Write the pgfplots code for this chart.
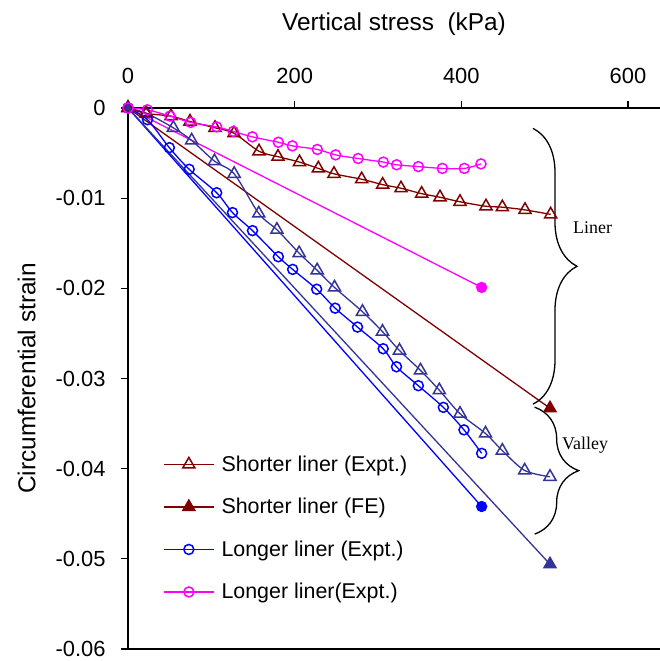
\documentclass[border=0pt]{standalone}
\usepackage{pgfplots}
\pgfplotsset{compat=1.18}
\usepackage{fontspec}
\setmainfont{Liberation Sans}
\newfontfamily\tms{Liberation Serif}
\usetikzlibrary{decorations.pathreplacing}
\definecolor{dred}{HTML}{800000}
\definecolor{slate}{HTML}{333399}
\definecolor{mag}{HTML}{FF00FF}
\begin{document}
\begin{tikzpicture}
\begin{axis}[
  scale only axis, width=532bp, height=541bp,
  xmin=0, xmax=638.4, ymin=-0.06, ymax=0,
  clip=false, scaled ticks=false,
  axis x line*=box, axis y line*=left,
  x axis line style={-, line width=1.5bp}, y axis line style={-, line width=1.5bp},
  xtick pos=right, xticklabel pos=right,
  ytick pos=left, yticklabel pos=left,
  tick align=outside, major tick length=7bp,
  tick style={black, line width=1.3bp},
  xtick={0,200,400,600}, xticklabels={0,200,400,600},
  ytick={0,-0.01,-0.02,-0.03,-0.04,-0.05,-0.06},
  yticklabels={0,-0.01,-0.02,-0.03,-0.04,-0.05,-0.06},
  ticklabel style={font=\fontsize{22}{26}\selectfont},
  xticklabel shift=14bp, yticklabel shift=12bp,
  xlabel={Vertical stress\ \ (kPa)},
  ylabel={Circumferential strain},
  xlabel shift=26bp, ylabel shift=13bp,
  label style={font=\fontsize{24.5}{28}\selectfont},
  legend style={draw=none, fill=none, at={(rel axis cs:0.0658,0.361)}, anchor=north west,
     font=\fontsize{21.5}{25}\selectfont, inner sep=0pt, nodes={inner sep=2bp}, row sep=21.5bp,
     cells={anchor=west}, /tikz/every odd column/.append style={column sep=5bp}},
  legend image code/.code={\draw[mark repeat=2,mark phase=2] plot coordinates {(0bp,0bp) (25bp,0bp) (50bp,0bp)};},
]
\coordinate (tl) at (rel axis cs:0,1);
% FE lines
\addplot[dred, line width=1.3bp, mark=triangle*, mark size=7bp, mark options={fill=dred, solid}, forget plot]
  coordinates {(0,0) (506.4,-0.0333)};
\addplot[blue, line width=1.3bp, mark=*, mark size=5bp, mark options={fill=blue}, forget plot]
  coordinates {(0,0) (424.4,-0.0442)};
\addplot[mag, line width=1.3bp, mark=*, mark size=5bp, mark options={fill=mag}, forget plot]
  coordinates {(0,0) (424.4,-0.0199)};
\addplot[slate, line width=1.3bp, mark=triangle*, mark size=7bp, mark options={fill=slate}, forget plot]
  coordinates {(0,0) (506.4,-0.0506)};
% Slate expt
\addplot[slate, line width=1.3bp, smooth, tension=0.5, mark=triangle, mark size=7bp, mark options={line width=1.5bp}, forget plot]
  coordinates {(0,0) (22.4,-0.0006) (54.4,-0.0022) (76.4,-0.0036) (103.8,-0.0059) (127.4,-0.0073) (156.9,-0.0117) (178.7,-0.0135) (205.4,-0.0161) (227,-0.0180) (247.8,-0.0199) (281.4,-0.0226) (305.4,-0.0248) (325.8,-0.0269) (351,-0.0291) (373.6,-0.0313) (398.4,-0.0339) (429,-0.0361) (449.2,-0.0380) (476,-0.0402) (506.4,-0.0409)};
% legend plots
\addplot[dred, line width=1.3bp, smooth, tension=0.5, mark=triangle, mark size=7bp, mark options={line width=1.5bp}]
  coordinates {(0,0) (21.6,-0.0006) (51.6,-0.0009) (74.4,-0.0015) (104.4,-0.0022) (127.2,-0.0028) (157.2,-0.0048) (180,-0.0054) (205.8,-0.0060) (228.4,-0.0067) (247.2,-0.0073) (280.4,-0.0079) (305.6,-0.0085) (327.6,-0.0089) (352.4,-0.0095) (374.4,-0.0099) (398.4,-0.0104) (429.6,-0.0109) (449.2,-0.0110) (476.4,-0.0113) (507.2,-0.0118)};
\addlegendentry{Shorter liner (Expt.)}
\addlegendimage{dred, line width=1.3bp, mark=triangle*, mark size=7bp, mark options={fill=dred}}
\addlegendentry{Shorter liner (FE)}
\addplot[blue, line width=1.3bp, smooth, tension=0.5, mark=o, mark size=5bp, mark options={line width=1.5bp}]
  coordinates {(0,0) (23.4,-0.0013) (49.6,-0.0044) (73.4,-0.0068) (106.4,-0.0094) (125.4,-0.0116) (149.4,-0.0136) (180.4,-0.0165) (197.6,-0.0179) (226.4,-0.0201) (248.6,-0.0222) (275.4,-0.0243) (306.2,-0.0267) (322.2,-0.0287) (348.4,-0.0308) (378.4,-0.0332) (403.2,-0.0357) (424.4,-0.0383)};
\addlegendentry{Longer liner (Expt.)}
\addplot[mag, line width=1.3bp, smooth, tension=0.5, mark=o, mark size=5bp, mark options={line width=1.5bp}]
  coordinates {(0,0) (23.2,-0.0002) (50.4,-0.0009) (75.2,-0.0016) (106.4,-0.0021) (126.4,-0.0026) (149.2,-0.0032) (180.4,-0.0038) (197.2,-0.0042) (227.2,-0.0046) (249.2,-0.0052) (276.1,-0.0056) (306.4,-0.0060) (322.4,-0.0063) (348.4,-0.0065) (377.2,-0.0067) (403.6,-0.0067) (423.6,-0.0062)};
\addlegendentry{Longer liner(Expt.)}
% braces
\draw[decorate, decoration={brace, amplitude=44bp}, line width=1.3bp] (axis cs:486,-0.00226) -- (axis cs:486,-0.03285);
\draw[decorate, decoration={brace, amplitude=44bp}, line width=1.3bp] (axis cs:488,-0.03318) -- (axis cs:488,-0.04726);
\node[anchor=west, font=\tms\fontsize{18}{21}\selectfont, inner sep=0pt] at (axis cs:534,-0.01326) {Liner};
\node[anchor=west, font=\tms\fontsize{18}{21}\selectfont, inner sep=0pt] at (axis cs:520.8,-0.0374) {Valley};
\end{axis}
\pgfresetboundingbox
\path ([shift={(-128bp,108bp)}]tl) rectangle ([shift={(532bp,-553bp)}]tl);
\end{tikzpicture}
\end{document}
